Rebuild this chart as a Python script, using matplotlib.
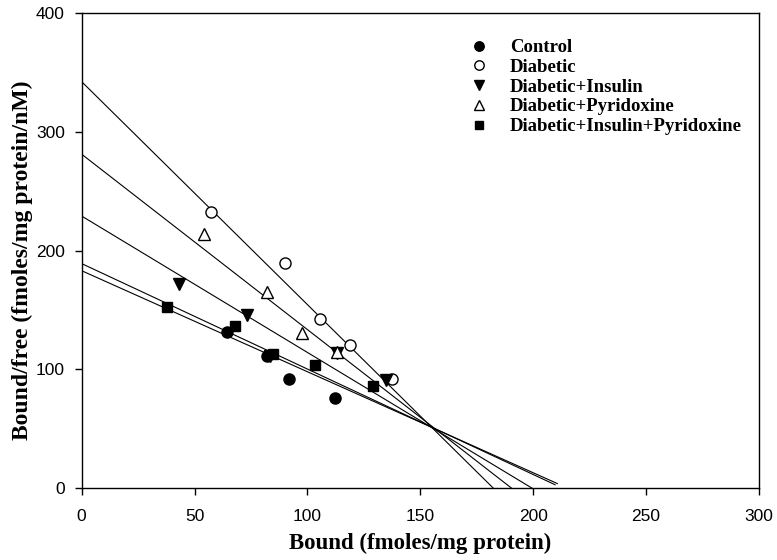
import numpy as np
import matplotlib
matplotlib.use('Agg')
import matplotlib.pyplot as plt

# Scatchard data
groups = ['Control', 'Diabetic', 'Diabetic+Insulin', 'Diabetic+Pyridoxine',
          'Diabetic+Insulin+Pyridoxine']

control_x = [64.5, 82.3, 91.9, 112.3]
control_y = [131.6, 111.5, 92.0, 76.3]

diabetic_x = [57.2, 90.2, 105.6, 118.7, 137.5]
diabetic_y = [232.0, 189.8, 142.6, 120.2, 92.0]

insulin_x = [42.9, 73.3, 83.3, 112.9, 134.7]
insulin_y = [172.0, 146.0, 111.0, 114.0, 91.4]

pyridoxine_x = [54.2, 82.2, 97.5, 113.0]
pyridoxine_y = [213.8, 165.0, 131.0, 114.3]

ins_pyr_x = [38.0, 68.1, 84.8, 103.4, 129.2]
ins_pyr_y = [152.9, 136.7, 113.2, 103.7, 86.4]

# regression lines (intercept, end of drawn line)
line_intercepts = [183.0, 342.0, 229.0, 281.0, 189.0]
line_x_end = [210.7, 182.4, 199.6, 190.5, 209.7]
line_y_end = [4.0, 0.0, 0.0, 0.0, 3.0]

x_ticks = [0, 50, 100, 150, 200, 250, 300]
y_ticks = [0, 100, 200, 300, 400]

fig = plt.figure(figsize=(7.77, 5.60), dpi=100)
ax = fig.add_axes([0.1051, 0.128, 0.8717, 0.8493])

# lines first, markers on top
for b, xe, ye in zip(line_intercepts, line_x_end, line_y_end):
    ax.plot([0, xe], [b, ye], color='black', lw=0.8, zorder=1)

ms = 8
ax.plot(control_x, control_y, 'o', color='black', ms=ms, label=groups[0], zorder=2)
ax.plot(diabetic_x, diabetic_y, 'o', mfc='white', mec='black', mew=1.0, ms=ms,
        label=groups[1], zorder=3)
ax.plot(insulin_x, insulin_y, 'v', color='black', ms=ms + 0.5, label=groups[2], zorder=4)
ax.plot(pyridoxine_x, pyridoxine_y, '^', mfc='white', mec='black', mew=1.0, ms=ms + 0.5,
        label=groups[3], zorder=5)
ax.plot(ins_pyr_x, ins_pyr_y, 's', color='black', ms=ms - 0.5, label=groups[4], zorder=6)

ax.set_xlim(0, 300)
ax.set_ylim(0, 400)
ax.set_xticks(x_ticks)
ax.set_yticks(y_ticks)
ax.tick_params(direction='out', length=5, width=1, labelsize=12.5)
ax.tick_params(axis='x', pad=10)
ax.tick_params(axis='y', pad=7)
for lab in ax.get_xticklabels() + ax.get_yticklabels():
    lab.set_fontfamily('Liberation Sans')
for sp in ax.spines.values():
    sp.set_linewidth(1)

ax.set_xlabel('Bound (fmoles/mg protein)', fontfamily='Liberation Serif',
              fontweight='bold', fontsize=16.5, labelpad=6)
ax.set_ylabel('Bound/free (fmoles/mg protein/nM)', fontfamily='Liberation Serif',
              fontweight='bold', fontsize=17)
ax.yaxis.set_label_coords(-0.072, 0.479)

ax.legend(loc='upper left', bbox_to_anchor=(0.545, 0.98), frameon=False,
          prop={'family': 'Liberation Serif', 'weight': 'bold', 'size': 13.5},
          markerscale=0.85, handletextpad=1.05, labelspacing=0.14, handlelength=1.2)

plt.savefig('out.png', dpi=100)
plt.close()
